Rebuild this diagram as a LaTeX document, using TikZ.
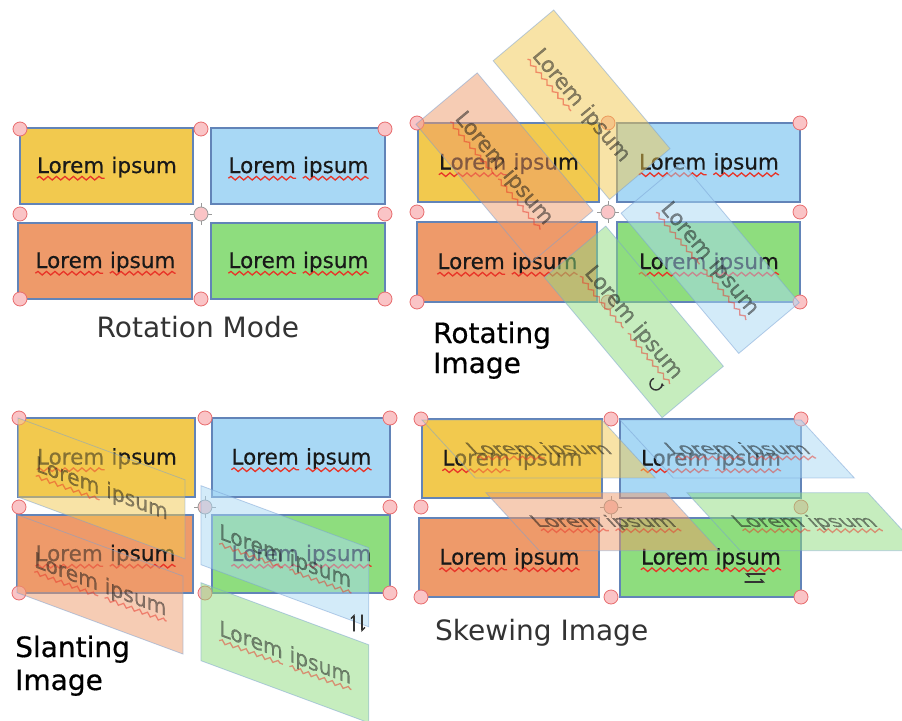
\documentclass[tikz,border=0pt]{standalone}
\usepackage{fontspec}
\usetikzlibrary{decorations.pathmorphing,arrows.meta}
\newfontfamily\dejavu{DejaVu Sans}
\newfontfamily\loremfont{DejaVu Sans}[FakeBold=0.4]
\newfontfamily\capfont{DejaVu Sans}[FakeBold=0.6]

\definecolor{cyellow}{RGB}{242,201,78}
\definecolor{cblue}{RGB}{168,216,245}
\definecolor{corange}{RGB}{238,154,106}
\definecolor{cgreen}{RGB}{142,221,126}
\definecolor{cedge}{RGB}{98,132,184}
\definecolor{copyedge}{RGB}{120,160,212}
\definecolor{hpink}{RGB}{250,196,198}
\definecolor{hred}{RGB}{232,108,110}
\definecolor{squig}{RGB}{232,52,40}

\tikzstyle{card}=[rectangle,draw=cedge,line width=1.2pt,inner sep=0pt]
\tikzstyle{word}=[inner sep=0pt,text depth=5pt,text=black!90,font=\loremfont\fontsize{21.5}{24}\selectfont]
\tikzstyle{squiggle}=[draw=squig,line width=1.3pt,decorate,decoration={snake,amplitude=1.8pt,segment length=8.5pt}]
\tikzstyle{handle}=[circle,draw=hred,fill=hpink,line width=0.8pt,minimum size=14pt,inner sep=0pt]
\tikzstyle{pivot}=[handle,draw=gray!80]
\tikzstyle{tick}=[draw=gray!80,line width=1pt]
\tikzstyle{copy}=[opacity=0.5,transform shape,card/.append style={draw=copyedge,line width=0.8pt}]
\tikzstyle{caption}=[inner sep=0pt,text=black,font=\capfont\fontsize{28}{32}\selectfont]
\tikzstyle{thincap}=[inner sep=0pt,text=black!80,font=\dejavu\fontsize{28}{32}\selectfont]
\tikzstyle{cursor}=[draw=black!80,line width=1.4pt,line cap=round]

% a card: name, left, top, width, height, colour, underline ipsum too
\newcommand\card[7]{%
  \begin{scope}[shift={(#2,#3)}]
    \node[card,fill=#6,minimum width=#4,minimum height=#5] (#1) at (#4/2,#5/2) {};
    \node[word,anchor=base east] (#1L) at (#4/2-2,#5/2+7) {Lorem};
    \node[word,anchor=base west] (#1I) at (#4/2+4.8,#5/2+7) {ipsum};
    \draw[squiggle] (#1L.south west) -- (#1L.south east);
    \ifnum#7=1 \draw[squiggle] (#1I.south west) -- (#1I.south east);\fi
  \end{scope}}

% the eight handles and the pivot: prefix, left, mid, right, top, mid, bottom
\newcommand\handles[7]{%
  \node[handle] (#1nw) at (#2,#5) {};
  \node[handle] (#1n) at (#3,#5) {};
  \node[handle] (#1ne) at (#4,#5) {};
  \node[handle] (#1w) at (#2,#6) {};
  \node[handle] (#1e) at (#4,#6) {};
  \node[handle] (#1sw) at (#2,#7) {};
  \node[handle] (#1s) at (#3,#7) {};
  \node[handle] (#1se) at (#4,#7) {};
  \node[pivot] (#1c) at (#3,#6) {};
  \draw[tick] (#1c.north) -- ++(0,-3.5) (#1c.south) -- ++(0,3.5)
    (#1c.east) -- ++(3.5,0) (#1c.west) -- ++(-3.5,0);}

\begin{document}
\begin{tikzpicture}[x=1pt,y=-1pt]
    \fill[white] (0,0) rectangle (902,720);
    \useasboundingbox (0,0) rectangle (902,720);

    % rotation mode
    \card{ay}{20}{128}{173}{76}{cyellow}{0}
    \card{ab}{211}{128}{174}{76}{cblue}{1}
    \card{ao}{18}{223}{174}{76}{corange}{1}
    \card{ag}{211}{223}{174}{76}{cgreen}{1}
    \handles{ha}{20}{201}{385}{129}{214}{299}
    \node[thincap,anchor=base west] (capa) at (96.5,337) {Rotation Mode};

    % rotating
    \card{by}{418}{123}{181}{79}{cyellow}{0}
    \card{bb}{617}{123}{183}{79}{cblue}{1}
    \card{bo}{417}{222}{180}{80}{corange}{1}
    \card{bg}{617}{222}{183}{80}{cgreen}{1}
    \handles{hb}{417}{608}{800}{123}{212}{302}
    \begin{scope}[copy,rotate around={-50:(607,212)}]
        \card{ry}{418}{123}{181}{79}{cyellow}{0}
        \card{rb}{617}{123}{183}{79}{cblue}{1}
        \card{ro}{417}{222}{180}{80}{corange}{1}
        \card{rg}{617}{222}{183}{80}{cgreen}{1}
    \end{scope}
    \coordinate (rcur) at (656,384);
    \draw[cursor,-{Stealth[length=3.5pt,width=4pt]}] (rcur) ++(-114:6) arc[start angle=-114,end angle=-370,radius=6];
    \node[caption,anchor=base west] (capb1) at (433,343) {Rotating};
    \node[caption,anchor=base west] (capb2) at (433,373) {Image};

    % slanting
    \card{cy}{18}{418}{177}{79}{cyellow}{0}
    \card{cb}{212}{418}{178}{79}{cblue}{1}
    \card{co}{17}{515}{176}{78}{corange}{1}
    \card{cg}{212}{515}{178}{78}{cgreen}{1}
    \handles{hc}{19}{205}{390}{418}{507}{593}
    \begin{scope}[copy,shift={(18,418)},yslant=-0.37,xscale=0.943,shift={(-18,-418)}]
        \card{sy}{18}{418}{177}{79}{cyellow}{0}
        \card{sb}{212}{418}{178}{79}{cblue}{1}
        \card{so}{17}{515}{176}{78}{corange}{1}
        \card{sg}{212}{515}{178}{78}{cgreen}{1}
    \end{scope}
    \coordinate (scur) at (358,623);
    \draw[cursor,-{Straight Barb[harpoon,length=3pt]}] ([shift={(-4,8)}]scur) -- ++(0,-17);
    \draw[cursor,-{Straight Barb[harpoon,length=3pt]}] ([shift={(4,-8)}]scur) -- ++(0,17);
    \node[caption,anchor=base west] (capc1) at (15,657) {Slanting};
    \node[caption,anchor=base west] (capc2) at (15,690) {Image};

    % skewing
    \card{dy}{422}{419}{180}{79}{cyellow}{0}
    \card{db}{620}{419}{181}{79}{cblue}{1}
    \card{do}{419}{518}{180}{79}{corange}{1}
    \card{dg}{620}{518}{181}{79}{cgreen}{1}
    \handles{hd}{421}{611}{801}{419}{507}{597}
    \begin{scope}[copy,shift={(422,420)},xslant=-0.92,yscale=0.734,shift={(-422,-419)}]
        \card{ky}{422}{419}{180}{79}{cyellow}{0}
        \card{kb}{620}{419}{181}{79}{cblue}{1}
        \card{ko}{419}{518}{180}{79}{corange}{1}
        \card{kg}{620}{518}{181}{79}{cgreen}{1}
    \end{scope}
    \coordinate (kcur) at (755,578);
    \draw[cursor,-{Straight Barb[harpoon,length=3pt]}] ([shift={(10,-4)}]kcur) -- ++(-20,0);
    \draw[cursor,-{Straight Barb[harpoon,length=3pt]}] ([shift={(-10,4)}]kcur) -- ++(20,0);
    \node[thincap,anchor=base west] (capd) at (435,640) {Skewing Image};
\end{tikzpicture}
\end{document}
